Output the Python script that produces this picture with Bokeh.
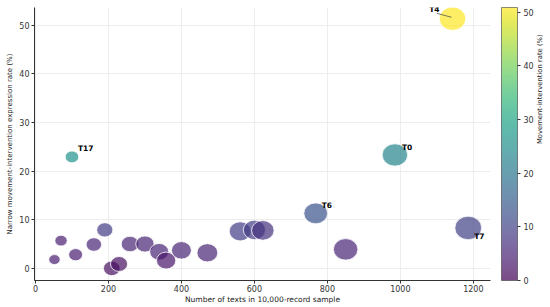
import numpy as np
from bokeh.plotting import figure
from bokeh.models import (ColumnDataSource, LinearColorMapper, ColorBar, FixedTicker,
                          LinearAxis, Range1d)
from bokeh.palettes import Viridis256
from bokeh.transform import transform
from bokeh.core.properties import value
from bokeh.embed import file_html
from bokeh.resources import INLINE

# ---- data ----
texts = [52, 70, 110, 100, 160, 190, 209, 229, 259, 300, 339, 358, 400, 471,
         561, 600, 623, 768, 850, 985, 1186, 1143]
narrow_rate = [1.8, 5.7, 2.8, 22.9, 4.9, 7.9, 0.0, 0.9, 5.0, 5.0, 3.4, 1.6, 3.7, 3.2,
               7.6, 7.9, 7.8, 11.3, 3.9, 23.3, 8.3, 51.3]
movement_rate = [4, 4, 4, 26, 5, 9, 2, 2, 5, 5, 5, 3, 5, 5,
                 9, 9, 7, 13, 5, 23, 10, 50.9]
topic = ["", "", "", "T17", "", "", "", "", "", "", "", "", "", "",
         "", "", "", "T6", "", "T0", "T7", "T4"]

x_ticks = [0, 200, 400, 600, 800, 1000, 1200]
y_ticks = [0, 10, 20, 30, 40, 50]
cb_ticks = [0, 10, 20, 30, 40, 50]

FONT = "DejaVu Sans"

# bubble size grows with the number of texts (image was squashed vertically)
w = 3.83 * np.array(texts, dtype=float) ** 0.275
h = w / 1.14

src = ColumnDataSource(dict(x=texts, y=narrow_rate, c=movement_rate, w=w, h=h))

X0, X1 = -2.7, 1247
Y0, Y1 = -2.5, 53.6
p = figure(width=550, height=307,
           x_range=Range1d(X0, X1), y_range=Range1d(Y0, Y1),
           output_backend="svg", toolbar_location=None,
           min_border_left=34, min_border_right=59, min_border_top=7,
           min_border_bottom=27)
p.outline_line_color = None
p.background_fill_color = "white"

mapper = LinearColorMapper(palette=Viridis256, low=0, high=max(movement_rate))

p.ellipse(x="x", y="y", width="w", height="h", width_units="screen",
          height_units="screen", source=src,
          fill_color=transform("c", mapper), fill_alpha=0.7,
          line_color="white", line_alpha=0.8, line_width=1)

# labels
label_offsets = {"T17": (6, -8, "left"), "T0": (7, -7, "left"), "T6": (6, -8, "left"),
                 "T7": (6, 9, "left"), "T4": (-13, -9, "right")}
lx, ly, lt, lxo, lyo, la = [], [], [], [], [], []
for xi, yi, ti in zip(texts, narrow_rate, topic):
    if ti:
        ox, oy, al = label_offsets[ti]
        lx.append(xi); ly.append(yi); lt.append(ti)
        lxo.append(ox); lyo.append(oy); la.append(al)
lsrc = ColumnDataSource(dict(x=lx, y=ly, t=lt, xo=lxo, yo=lyo, a=la))
p.text(x="x", y="y", text="t", x_offset="xo", y_offset="yo", text_align="a",
       text_baseline="middle", source=lsrc, text_font=value(FONT),
       text_font_size="7.5px", text_font_style="bold", text_color="black")

# leader line for T4
i4 = topic.index("T4")
p.segment(x0=[texts[i4] - 3], y0=[narrow_rate[i4] + 0.3],
          x1=[texts[i4] - 43], y1=[narrow_rate[i4] + 1.1],
          line_color="#555555", line_width=0.8)

# axes
for ax in (p.xaxis[0], p.yaxis[0]):
    ax.axis_line_color = "#333333"
    ax.axis_line_width = 1
    ax.major_tick_line_color = "#333333"
    ax.major_tick_out = 3
    ax.major_tick_in = 0
    ax.minor_tick_line_color = None
    ax.major_label_text_font = FONT
    ax.major_label_text_font_size = "8px"
    ax.major_label_text_color = "#333333"
    ax.major_label_standoff = 2
    ax.axis_label_text_font = FONT
    ax.axis_label_text_font_style = "normal"
    ax.axis_label_text_color = "#222222"
    ax.axis_label_standoff = 2

p.xaxis[0].ticker = FixedTicker(ticks=x_ticks)
p.yaxis[0].ticker = FixedTicker(ticks=y_ticks)
p.xaxis[0].axis_label = "Number of texts in 10,000-record sample"
p.yaxis[0].axis_label = "Narrow movement-intervention expression rate (%)"
p.xaxis[0].axis_label_text_font_size = "7.5px"
p.yaxis[0].axis_label_text_font_size = "7px"
p.xaxis[0].major_label_standoff = 1
p.xaxis[0].axis_label_standoff = 0

p.xgrid.ticker = FixedTicker(ticks=x_ticks)
p.ygrid.ticker = FixedTicker(ticks=y_ticks)
p.grid.grid_line_color = "#e8e8e8"
p.grid.grid_line_width = 0.8

cb = ColorBar(color_mapper=mapper, width=16, ticker=FixedTicker(ticks=cb_ticks),
              major_label_text_font=FONT, major_label_text_font_size="8px",
              major_label_text_color="#333333",
              major_tick_line_color="#333333", major_tick_in=0, major_tick_out=3,
              bar_line_color="#333333", bar_line_width=0.8, scale_alpha=0.7,
              padding=0, margin=0, label_standoff=3,
              background_fill_color=None, border_line_color=None,
              location=(11, 0))
p.add_layout(cb, "right")

# colorbar title as an axis label on the far right
title_axis = LinearAxis(ticker=FixedTicker(ticks=[]),
                        axis_label="Movement-intervention rate (%)",
                        axis_label_text_font=FONT, axis_label_text_font_size="6.8px",
                        axis_label_text_font_style="normal",
                        axis_label_text_color="#222222", axis_label_standoff=3,
                        axis_line_color=None, major_tick_line_color=None,
                        minor_tick_line_color=None, major_label_text_font_size="0px")
if hasattr(title_axis, "axis_label_orientation"):
    title_axis.axis_label_orientation = np.pi / 2
p.add_layout(title_axis, "right")

open("out.html", "w").write(file_html(p, INLINE))
